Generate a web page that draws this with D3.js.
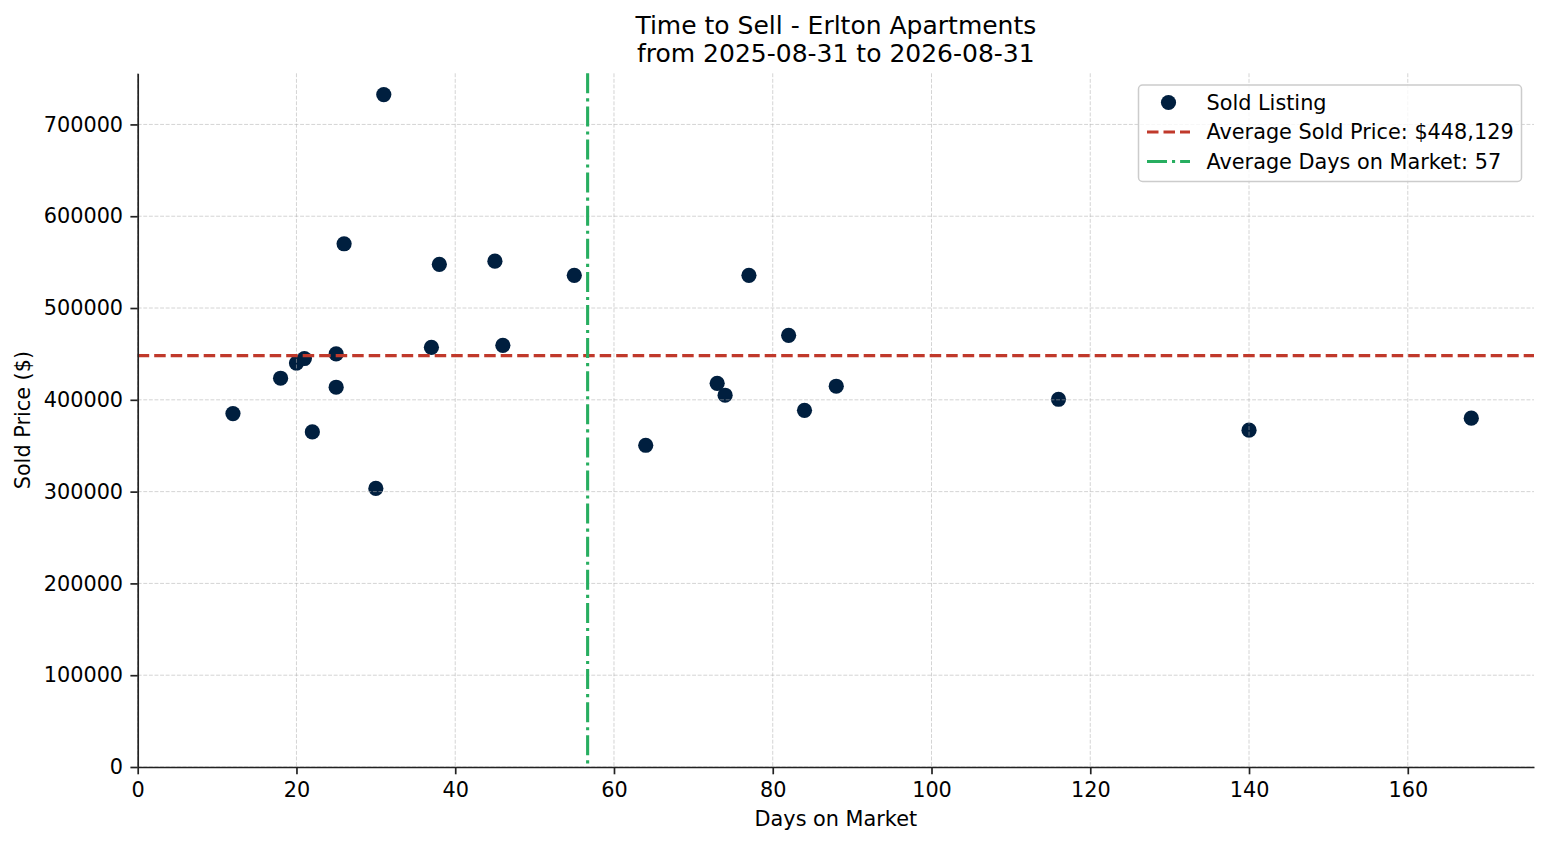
<!DOCTYPE html>
<html>
<head>
<meta charset="utf-8">
<script src="https://cdn.jsdelivr.net/npm/d3@7"></script>
<style>
  body { margin: 0; background: #fff; }
  text { font-family: "DejaVu Sans", sans-serif; fill: #000; }
</style>
</head>
<body>
<svg id="chart"></svg>
<script>
// Days on market for each sold listing
const daysOnMarket = [12, 18, 20, 21, 22, 25, 25, 26, 30, 31, 37, 38, 45, 46, 55, 64, 73, 74, 77, 82, 84, 88, 116, 140, 168];
// Sold price for each listing ($)
const soldPrices = [385000, 423500, 440000, 445000, 365000, 450000, 413700, 570000, 303500, 732500, 457200, 547600, 551000, 459400, 535600, 350500, 418000, 405000, 535600, 470300, 388600, 414800, 400600, 366900, 380000];
const xTicks = [0, 20, 40, 60, 80, 100, 120, 140, 160];
const yTicks = [0, 100000, 200000, 300000, 400000, 500000, 600000, 700000];
const avgSoldPrice = 448129;
const titleLines = ["Time to Sell - Erlton Apartments", "from 2025-08-31 to 2026-08-31"];

const W = 1547, H = 845;
const margin = { top: 73.3, right: 13, bottom: 78, left: 137.7 };
const width = W - margin.left - margin.right;
const height = H - margin.top - margin.bottom;

const points = daysOnMarket.map((d, i) => ({ days: d, price: soldPrices[i] }));
const avgDays = d3.mean(daysOnMarket);

const x = d3.scaleLinear().domain([0, 175.9]).range([0, width]);
const y = d3.scaleLinear().domain([0, 755700]).range([height, 0]);

const svg = d3.select("#chart").attr("width", W).attr("height", H);
const g = svg.append("g").attr("transform", `translate(${margin.left},${margin.top})`);

// points
g.selectAll("circle.pt")
    .data(points)
    .enter()
    .append("circle")
    .attr("class", "pt")
    .attr("cx", (d) => x(d.days))
    .attr("cy", (d) => y(d.price))
    .attr("r", 7.6)
    .attr("fill", "#001f3f");

// grid (drawn over the dots, like matplotlib does)
const grid = g.append("g").attr("stroke", "#b0b0b0").attr("stroke-opacity", 0.55)
    .attr("stroke-width", 1).attr("stroke-dasharray", "3.9,1.7");
grid.selectAll("line.gx").data(xTicks).enter().append("line")
    .attr("x1", (d) => x(d)).attr("x2", (d) => x(d)).attr("y1", 0).attr("y2", height);
grid.selectAll("line.gy").data(yTicks).enter().append("line")
    .attr("y1", (d) => y(d)).attr("y2", (d) => y(d)).attr("x1", 0).attr("x2", width);

// average lines
g.append("line")
    .attr("x1", 0).attr("x2", width)
    .attr("y1", y(avgSoldPrice)).attr("y2", y(avgSoldPrice))
    .attr("stroke", "#c0392b").attr("stroke-width", 3.1)
    .attr("stroke-dasharray", "11.5,5");
g.append("line")
    .attr("x1", x(avgDays)).attr("x2", x(avgDays))
    .attr("y1", 0).attr("y2", height)
    .attr("stroke", "#27ae60").attr("stroke-width", 3.1)
    .attr("stroke-dasharray", "20,5,3.1,5");

// axes
const xAxis = g.append("g")
    .attr("transform", `translate(0,${height})`)
    .call(d3.axisBottom(x).tickValues(xTicks).tickSize(7.3).tickPadding(7.3).tickSizeOuter(0));
const yAxis = g.append("g")
    .call(d3.axisLeft(y).tickValues(yTicks).tickFormat(d3.format("d")).tickSize(7.3).tickPadding(7.3).tickSizeOuter(0));
[xAxis, yAxis].forEach((ax) => {
    ax.select(".domain").attr("stroke", "#222").attr("stroke-width", 1.7);
    ax.selectAll(".tick line").attr("stroke", "#222").attr("stroke-width", 1.7);
    ax.selectAll(".tick text").attr("font-family", "DejaVu Sans").attr("font-size", 20.8).attr("fill", "#000");
});
xAxis.selectAll(".tick text").attr("dy", "0.72em");

// labels
svg.append("text")
    .attr("x", margin.left + width / 2).attr("y", 826)
    .attr("text-anchor", "middle").attr("font-size", 20.8)
    .text("Days on Market");
svg.append("text")
    .attr("transform", `translate(30,${margin.top + height / 2}) rotate(-90)`)
    .attr("text-anchor", "middle").attr("font-size", 20.8)
    .text("Sold Price ($)");

svg.append("g").selectAll("text")
    .data(titleLines)
    .enter()
    .append("text")
    .attr("x", margin.left + width / 2)
    .attr("y", (d, i) => 34 + i * 28)
    .attr("text-anchor", "middle").attr("font-size", 25)
    .text((d) => d);

// legend
const legend = svg.append("g").attr("transform", "translate(1138.5,85)");
legend.append("rect")
    .attr("width", 383).attr("height", 96.5).attr("rx", 4)
    .attr("fill", "#fff").attr("fill-opacity", 0.8)
    .attr("stroke", "#cccccc").attr("stroke-width", 1.5);
const items = [
    { label: "Sold Listing", type: "dot" },
    { label: "Average Sold Price: $" + d3.format(",")(avgSoldPrice), type: "dash", color: "#c0392b", dash: "11.5,5" },
    { label: "Average Days on Market: " + Math.round(avgDays), type: "dashdot", color: "#27ae60", dash: "20,5,3.1,5" },
];
items.forEach((it, i) => {
    const cy = 17.5 + i * 29.5;
    if (it.type === "dot") {
        legend.append("circle").attr("cx", 30).attr("cy", cy).attr("r", 7.6).attr("fill", "#001f3f");
    } else {
        legend.append("line")
            .attr("x1", 8.5).attr("x2", 51.5).attr("y1", cy).attr("y2", cy)
            .attr("stroke", it.color).attr("stroke-width", 3.1)
            .attr("stroke-dasharray", it.dash);
    }
    legend.append("text")
        .attr("x", 68).attr("y", cy).attr("dy", "0.36em")
        .attr("font-size", 20.8)
        .text(it.label);
});
</script>
</body>
</html>
